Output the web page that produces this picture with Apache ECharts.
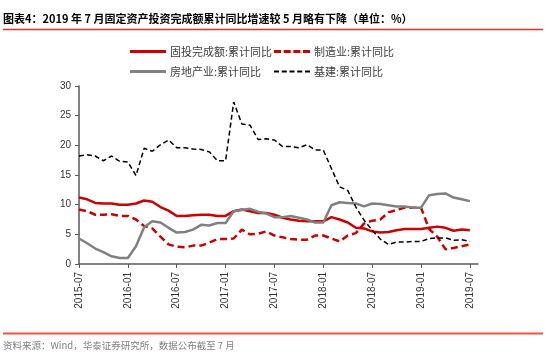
<!DOCTYPE html>
<html>
<head>
<meta charset="utf-8">
<script src="https://cdn.jsdelivr.net/npm/echarts@6/dist/echarts.min.js"></script>
<style>
html,body{margin:0;padding:0;background:#fff;}
#chart{width:550px;height:360px;}
</style>
</head>
<body>
<div id="chart"></div>
<script>
const categories = [
  '2015-07','2015-08','2015-09','2015-10','2015-11','2015-12',
  '2016-01','2016-02','2016-03','2016-04','2016-05','2016-06',
  '2016-07','2016-08','2016-09','2016-10','2016-11','2016-12',
  '2017-01','2017-02','2017-03','2017-04','2017-05','2017-06',
  '2017-07','2017-08','2017-09','2017-10','2017-11','2017-12',
  '2018-01','2018-02','2018-03','2018-04','2018-05','2018-06',
  '2018-07','2018-08','2018-09','2018-10','2018-11','2018-12',
  '2019-01','2019-02','2019-03','2019-04','2019-05','2019-06',
  '2019-07'
];
// 固投完成额:累计同比
const fai = [
  11.2,10.9,10.3,10.2,10.2,10.0,
  10.0,10.2,10.7,10.5,9.6,9.0,
  8.1,8.1,8.2,8.3,8.3,8.1,
  8.1,8.9,9.2,8.9,8.6,8.6,
  8.3,7.8,7.5,7.3,7.2,7.2,
  7.2,7.9,7.5,7.0,6.1,6.0,
  5.5,5.3,5.4,5.7,5.9,5.9,
  5.9,6.1,6.3,6.1,5.6,5.8,
  5.7
];
// 制造业:累计同比
const manufacturing = [
  9.2,8.9,8.3,8.3,8.4,8.1,
  8.1,7.5,6.4,6.0,4.6,3.3,
  2.9,2.8,3.1,3.1,3.6,4.2,
  4.2,4.3,5.8,5.0,5.1,5.5,
  4.8,4.5,4.2,4.1,4.1,4.8,
  4.8,4.3,3.8,4.8,5.2,6.8,
  7.3,7.5,8.7,9.1,9.5,9.5,
  9.5,5.9,4.6,2.5,2.7,3.0,
  3.3
];
// 房地产业:累计同比
const realEstate = [
  4.3,3.5,2.6,2.0,1.3,1.0,
  1.0,3.0,6.2,7.2,7.0,6.1,
  5.3,5.4,5.8,6.6,6.5,6.9,
  6.9,8.9,9.1,9.3,8.8,8.5,
  7.9,7.9,8.1,7.8,7.5,7.0,
  7.0,9.9,10.4,10.3,10.2,9.7,
  10.2,10.1,9.9,9.7,9.7,9.5,
  9.5,11.6,11.8,11.9,11.2,10.9,
  10.6
];
// 基建:累计同比
const infrastructure = [
  18.2,18.4,18.2,17.4,18.2,17.3,
  17.2,14.9,19.5,19.0,20.1,20.9,
  19.6,19.6,19.4,19.3,18.9,17.4,
  17.4,27.3,23.6,23.4,21.0,21.1,
  20.9,19.8,19.8,19.6,20.1,19.2,
  19.2,16.1,13.0,12.4,9.6,7.4,
  5.7,4.2,3.3,3.7,3.7,3.8,
  3.8,4.3,4.4,4.4,4.0,4.1,
  3.8
];
const seriesNames = ['固投完成额:累计同比','制造业:累计同比','房地产业:累计同比','基建:累计同比'];
const yMin = 0, yMax = 30, yStep = 5;

const CJK = '"Noto Sans CJK SC", "Noto Sans", sans-serif';
const LAT = '"Liberation Sans", Arial, sans-serif';

const ICON_SOLID = 'path://M0,0h36v3h-36z';
const ICON_RED_DASH = 'path://M0,0h7v3h-7z M9.7,0h7v3h-7z M19.4,0h7v3h-7z M29,0h7v3h-7z';
const ICON_BLACK_DASH = 'path://M0,0h5v2h-5z M7.75,0h5v2h-5z M15.5,0h5v2h-5z M23.25,0h5v2h-5z M31,0h5v2h-5z';

const chart = echarts.init(document.getElementById('chart'), null, {renderer:'canvas'});

function legendAt(name, icon, h, color, left, top){
  return {
    data:[{name:name, icon:icon, itemStyle:{color:color, opacity:1}}],
    left:left, top:top, itemWidth:36, itemHeight:h,
    padding:0, itemGap:0,
    itemStyle:{color:color, borderWidth:0},
    lineStyle:{width:0, opacity:0},
    textStyle:{fontFamily:CJK, fontSize:11, color:'#404040', padding:[0,0,0,-1]}
  };
}

const option = {
  animation:false,
  backgroundColor:'#fff',
  title:[
    {text:'图表4：2019 年 7 月固定资产投资完成额累计同比增速较 5 月略有下降（单位：%）',
     left:3, top:13, padding:0,
     textStyle:{fontFamily:CJK, fontSize:11, fontWeight:'bold', color:'#000'}},
    {text:'资料来源：Wind，华泰证券研究所，数据公布截至 7 月',
     left:3, top:341, padding:0,
     textStyle:{fontFamily:CJK, fontSize:9.5, fontWeight:'normal', color:'#808080'}}
  ],
  graphic:[
    {type:'line', shape:{x1:3,y1:29.5,x2:543,y2:29.5}, style:{stroke:'#e0302a', lineWidth:1.5}},
    {type:'line', shape:{x1:3,y1:333.5,x2:543,y2:333.5}, style:{stroke:'#ee5544', lineWidth:2}}
  ],
  legend:[
    legendAt(seriesNames[0], ICON_SOLID, 3, '#cc0000', 130, 46),
    legendAt(seriesNames[1], ICON_RED_DASH, 3, '#cc0000', 274, 46),
    legendAt(seriesNames[2], ICON_SOLID, 3, '#808080', 130, 66),
    legendAt(seriesNames[3], ICON_BLACK_DASH, 2, '#000', 274, 66)
  ],
  grid:{left:79, right:72, top:86, bottom:96},
  xAxis:{
    type:'category', boundaryGap:false,
    data:categories.concat(['']),
    axisLine:{lineStyle:{color:'#595959', width:1.5}},
    axisTick:{show:true, interval:5, length:4, lineStyle:{color:'#595959'}},
    axisLabel:{interval:5, rotate:90, fontFamily:LAT, fontSize:10, color:'#333', margin:8},
    splitLine:{show:false}
  },
  yAxis:{
    type:'value', min:yMin, max:yMax, interval:yStep,
    axisLine:{show:true, lineStyle:{color:'#595959', width:1.5}},
    axisTick:{show:true, length:4, lineStyle:{color:'#595959'}},
    axisLabel:{fontFamily:LAT, fontSize:10, color:'#333', margin:8},
    splitLine:{show:false}
  },
  series:[
    {name:seriesNames[0], type:'line', data:fai, symbol:'none', color:'#cc0000',
     lineStyle:{color:'#cc0000', width:2.5, type:'solid'}},
    {name:seriesNames[1], type:'line', data:manufacturing, symbol:'none', color:'#cc0000',
     lineStyle:{color:'#cc0000', width:2.5, type:[7,4]}},
    {name:seriesNames[2], type:'line', data:realEstate, symbol:'none', color:'#808080',
     lineStyle:{color:'#808080', width:2.5, type:'solid'}},
    {name:seriesNames[3], type:'line', data:infrastructure, symbol:'none', color:'#000',
     lineStyle:{color:'#000', width:1.5, type:[5,3]}}
  ]
};
chart.setOption(option);
</script>
</body>
</html>
